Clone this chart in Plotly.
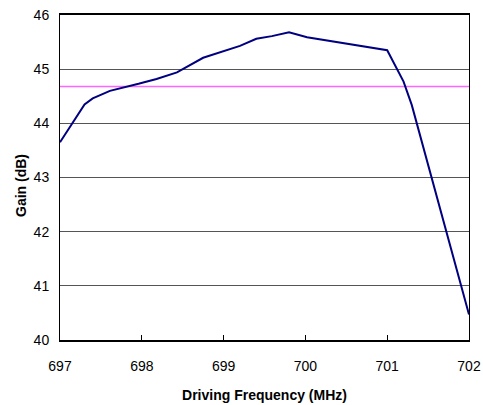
import plotly.graph_objects as go

freq = [697.0, 697.30, 697.40, 697.61, 697.96, 698.18, 698.43, 698.75, 699.20,
        699.40, 699.59, 699.80, 700.02, 701.00, 701.20, 701.30, 702.0]
gain = [43.65, 44.35, 44.46, 44.60, 44.73, 44.82, 44.94, 45.21, 45.43,
        45.56, 45.61, 45.68, 45.59, 45.35, 44.77, 44.34, 40.47]
ref_x = [697, 702]
ref_level = [44.68, 44.68]
x_ticks = [697, 698, 699, 700, 701, 702]
y_ticks = [40, 41, 42, 43, 44, 45, 46]

fig = go.Figure()
fig.add_trace(go.Scatter(x=ref_x, y=ref_level, mode="lines",
                         line=dict(color="#ff66ff", width=1.5), showlegend=False))
fig.add_trace(go.Scatter(x=freq, y=gain, mode="lines",
                         line=dict(color="#000080", width=2), showlegend=False))

font = "Liberation Sans, Arial, sans-serif"
fig.update_layout(
    width=483, height=405,
    margin=dict(l=60, r=14, t=15, b=65),
    paper_bgcolor="white", plot_bgcolor="white",
    font=dict(family=font, size=14, color="black"),
    xaxis=dict(range=[697, 702], tickvals=x_ticks, showgrid=False,
               ticks="inside", ticklen=5, tickcolor="black",
               showline=True, linecolor="black", linewidth=1.5, mirror=True,
               zeroline=False, automargin=False, ticklabelstandoff=12,
               ticklabeloverflow="allow",
               tickfont=dict(family=font, size=14),
               title=dict(text="<b>Driving Frequency (MHz)</b>", standoff=18,
                          font=dict(family=font, size=14))),
    yaxis=dict(range=[40, 46], tickvals=y_ticks, showgrid=True,
               gridcolor="#555555", gridwidth=1,
               showline=True, linecolor="black", linewidth=1, mirror=True,
               zeroline=False, ticks="", automargin=False, ticklabelstandoff=7,
               ticklabeloverflow="allow",
               tickfont=dict(family=font, size=14)),
    annotations=[dict(text="<b>Gain (dB)</b>", textangle=-90, showarrow=False,
                      xref="paper", yref="paper", x=-0.0954, y=0.477,
                      xanchor="center", yanchor="middle",
                      font=dict(family=font, size=14))],
)
fig.write_html("out.html",
               config={"displayModeBar": False},
               post_script="document.body.style.margin='0';document.body.style.overflow='hidden';")
